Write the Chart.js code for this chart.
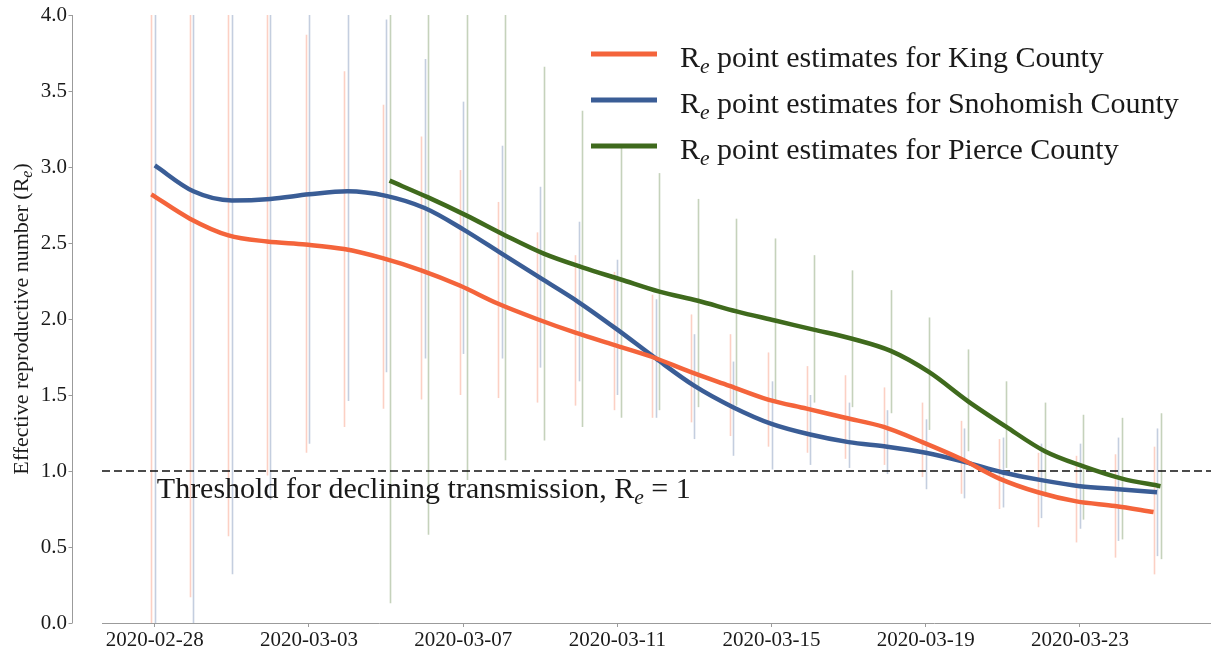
<!DOCTYPE html>
<html>
<head>
<meta charset="utf-8">
<script src="https://cdn.jsdelivr.net/npm/chart.js@4.4.1/dist/chart.umd.min.js"></script>
<style>
  html, body { margin: 0; padding: 0; background: #fff; }
  #wrap { width: 1211px; height: 650px; }
</style>
</head>
<body>
<div id="wrap"><canvas id="re-chart"></canvas></div>
<script>
// Dates (one per day) and the tick labels shown on the x axis
const dates = ['2020-02-28', '2020-02-29', '2020-03-01', '2020-03-02', '2020-03-03', '2020-03-04',
    '2020-03-05', '2020-03-06', '2020-03-07', '2020-03-08', '2020-03-09', '2020-03-10', '2020-03-11',
    '2020-03-12', '2020-03-13', '2020-03-14', '2020-03-15', '2020-03-16', '2020-03-17', '2020-03-18',
    '2020-03-19', '2020-03-20', '2020-03-21', '2020-03-22', '2020-03-23', '2020-03-24', '2020-03-25'];
const tickLabels = ['2020-02-28', '2020-03-03', '2020-03-07', '2020-03-11', '2020-03-15', '2020-03-19', '2020-03-23'];
const yTicks = [0, 0.5, 1, 1.5, 2, 2.5, 3, 3.5, 4];

// King County point estimates and interval bounds
const kingRe = [2.82, 2.66, 2.55, 2.51, 2.49, 2.46, 2.40, 2.32, 2.22, 2.10, 2.00, 1.91, 1.83, 1.75,
    1.65, 1.56, 1.47, 1.41, 1.35, 1.29, 1.19, 1.08, 0.95, 0.86, 0.80, 0.77, 0.73];
const kingLow = [-0.1, 0.17, 0.57, 0.97, 1.12, 1.29, 1.41, 1.47, 1.50, 1.48, 1.45, 1.43, 1.40, 1.35,
    1.32, 1.23, 1.16, 1.12, 1.08, 1.04, 0.96, 0.85, 0.75, 0.63, 0.53, 0.43, 0.32];
const kingHigh = [4.4, 4.4, 4.4, 4.4, 3.87, 3.63, 3.41, 3.20, 2.98, 2.77, 2.57, 2.42, 2.31, 2.16,
    2.03, 1.90, 1.78, 1.69, 1.63, 1.55, 1.45, 1.33, 1.21, 1.12, 1.10, 1.11, 1.16];

// Snohomish County
const snohomishRe = [3.01, 2.84, 2.78, 2.79, 2.82, 2.84, 2.81, 2.73, 2.59, 2.43, 2.27, 2.11, 1.93, 1.74,
    1.56, 1.42, 1.31, 1.24, 1.19, 1.16, 1.12, 1.06, 0.99, 0.94, 0.90, 0.88, 0.86];
const snohomishLow = [-0.1, 0.0, 0.32, 0.81, 1.18, 1.46, 1.65, 1.74, 1.77, 1.74, 1.68, 1.59, 1.50, 1.35,
    1.21, 1.10, 1.01, 1.04, 1.02, 0.98, 0.88, 0.82, 0.76, 0.69, 0.62, 0.54, 0.44];
const snohomishHigh = [4.4, 4.4, 4.4, 4.4, 4.4, 4.4, 3.97, 3.71, 3.43, 3.14, 2.87, 2.64, 2.39, 2.13,
    1.90, 1.72, 1.59, 1.50, 1.45, 1.40, 1.34, 1.28, 1.22, 1.18, 1.18, 1.22, 1.28];

// Pierce County (no estimates before 2020-03-05)
const pierceRe = [null, null, null, null, null, null, 2.91, 2.80, 2.68, 2.55, 2.43, 2.34, 2.26, 2.18,
    2.12, 2.05, 1.99, 1.93, 1.87, 1.79, 1.65, 1.46, 1.29, 1.13, 1.03, 0.95, 0.90];
const pierceLow = [null, null, null, null, null, null, 0.13, 0.58, 0.94, 1.07, 1.20, 1.29, 1.35, 1.40,
    1.42, 1.43, 1.46, 1.45, 1.42, 1.38, 1.27, 1.13, 1.02, 0.83, 0.68, 0.55, 0.42];
const pierceHigh = [null, null, null, null, null, null, 4.4, 4.4, 4.4, 4.4, 3.66, 3.37, 3.13, 2.96,
    2.79, 2.66, 2.53, 2.42, 2.32, 2.19, 2.01, 1.80, 1.59, 1.45, 1.37, 1.35, 1.38];

const threshold = 1;

const FONT = "'Liberation Serif', 'Times New Roman', serif";

// small offsets so the three interval bars sit side by side
const counties = [
    { name: 'King', values: kingRe, low: kingLow, high: kingHigh, shift: -0.09,
      color: '#f4643b', light: 'rgba(244,100,59,0.3)' },
    { name: 'Snohomish', values: snohomishRe, low: snohomishLow, high: snohomishHigh, shift: 0,
      color: '#3a5d96', light: 'rgba(58,93,150,0.3)' },
    { name: 'Pierce', values: pierceRe, low: pierceLow, high: pierceHigh, shift: 0.09,
      color: '#3f6a1d', light: 'rgba(63,106,29,0.3)' }
];

// draw text pieces, with subscripts set in a smaller italic
function drawPieces(ctx, pieces, x, y, size, measureOnly) {
    let w = 0;
    pieces.forEach(p => {
        const s = p.sub ? size * 0.72 : size;
        ctx.font = (p.sub ? 'italic ' : '') + s + 'px ' + FONT;
        if (!measureOnly) ctx.fillText(p.t, x + w, y + (p.sub ? size * 0.2 : 0));
        w += ctx.measureText(p.t).width;
    });
    return w;
}

const errorBars = {
    id: 'errorBars',
    beforeDatasetsDraw(chart) {
        const { ctx, chartArea, scales: { x, y } } = chart;
        ctx.save();
        ctx.beginPath();
        ctx.rect(chartArea.left, chartArea.top, chartArea.right - chartArea.left, chartArea.bottom - chartArea.top);
        ctx.clip();
        ctx.lineWidth = 1.6;
        counties.forEach(c => {
            ctx.strokeStyle = c.light;
            c.low.forEach((lo, i) => {
                if (lo === null) return;
                const px = Math.round(x.getPixelForValue(i + c.shift)) + 0.5;
                ctx.beginPath();
                ctx.moveTo(px, y.getPixelForValue(lo));
                ctx.lineTo(px, y.getPixelForValue(c.high[i]));
                ctx.stroke();
            });
        });
        ctx.restore();
    }
};

const decorations = {
    id: 'decorations',
    afterDraw(chart) {
        const { ctx, chartArea, scales: { x, y } } = chart;
        ctx.save();

        // detached y spine
        const sx = chartArea.left - 29.5;
        ctx.strokeStyle = '#9b9b9b';
        ctx.lineWidth = 1;
        ctx.beginPath();
        ctx.moveTo(sx, y.getPixelForValue(4));
        ctx.lineTo(sx, y.getPixelForValue(0));
        yTicks.forEach(v => {
            const py = Math.round(y.getPixelForValue(v)) + 0.5;
            ctx.moveTo(sx - 4, py);
            ctx.lineTo(sx, py);
        });
        ctx.stroke();

        ctx.fillStyle = '#1a1a1a';
        ctx.textBaseline = 'alphabetic';

        // y axis title
        const title = [{ t: 'Effective reproductive number (R' }, { t: 'e', sub: true }, { t: ')' }];
        const tsize = 22;
        const tw = drawPieces(ctx, title, 0, 0, tsize, true);
        ctx.save();
        ctx.translate(28, (chartArea.top + chartArea.bottom) / 2);
        ctx.rotate(-Math.PI / 2);
        drawPieces(ctx, title, -tw / 2, 0, tsize, false);
        ctx.restore();

        // threshold note
        const note = [{ t: 'Threshold for declining transmission, R' }, { t: 'e', sub: true }, { t: ' = 1' }];
        drawPieces(ctx, note, x.getPixelForValue(0) + 2, y.getPixelForValue(threshold) + 27, 30, false);

        // legend
        counties.forEach((c, i) => {
            const ly = 54 + i * 46;
            ctx.strokeStyle = c.color;
            ctx.lineWidth = 5;
            ctx.beginPath();
            ctx.moveTo(591, ly);
            ctx.lineTo(657, ly);
            ctx.stroke();
            const label = [{ t: 'R' }, { t: 'e', sub: true }, { t: ' point estimates for ' + c.name + ' County' }];
            drawPieces(ctx, label, 680, ly + 13, 30, false);
        });
        ctx.restore();
    }
};

const datasets = counties.map(c => ({
    label: 'Re point estimates for ' + c.name + ' County',
    data: c.values.map((v, i) => ({ x: i + c.shift, y: v })),
    borderColor: c.color,
    borderWidth: 4.5,
    pointRadius: 0,
    cubicInterpolationMode: 'monotone',
    spanGaps: false,
    fill: false
}));

datasets.push({
    label: 'threshold',
    data: [{ x: -1.37, y: threshold }, { x: 27.4, y: threshold }],
    borderColor: '#111',
    borderWidth: 1.6,
    borderDash: [8, 4],
    pointRadius: 0,
    fill: false
});

new Chart(document.getElementById('re-chart'), {
    type: 'line',
    data: { datasets },
    options: {
        responsive: true,
        maintainAspectRatio: false,
        animation: false,
        layout: { padding: { top: 15, right: 0, bottom: 0, left: 0 } },
        plugins: {
            legend: { display: false },
            tooltip: { enabled: false }
        },
        scales: {
            x: {
                type: 'linear',
                min: -1.37,
                max: 27.4,
                afterBuildTicks: scale => {
                    scale.ticks = tickLabels.map(l => ({ value: dates.indexOf(l) }));
                },
                afterFit: scale => { scale.height = 27; },
                grid: { display: true, drawOnChartArea: false, tickLength: 4, color: '#9b9b9b' },
                border: { display: true, color: '#9b9b9b' },
                ticks: {
                    padding: 1,
                    maxRotation: 0,
                    autoSkip: false,
                    color: '#1a1a1a',
                    font: { family: FONT, size: 21 },
                    callback: v => dates[v]
                }
            },
            y: {
                min: 0,
                max: 4,
                afterBuildTicks: scale => {
                    scale.ticks = yTicks.map(v => ({ value: v }));
                },
                afterFit: scale => { scale.width = 102; },
                // invisible tick marks push the labels out to the detached spine
                grid: { display: true, drawOnChartArea: false, drawTicks: true, tickLength: 33, color: 'rgba(0,0,0,0)' },
                border: { display: false },
                ticks: {
                    padding: 2,
                    color: '#1a1a1a',
                    font: { family: FONT, size: 21 },
                    callback: v => v.toFixed(1)
                }
            }
        }
    },
    plugins: [errorBars, decorations]
});
</script>
</body>
</html>
